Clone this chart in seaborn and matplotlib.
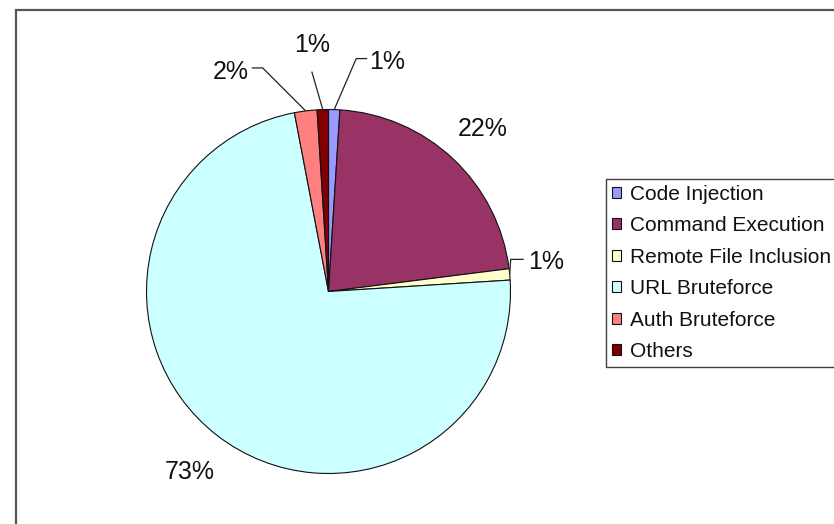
import numpy as np
import matplotlib
matplotlib.use("Agg")
import matplotlib.pyplot as plt
from matplotlib.patches import Rectangle
import seaborn as sns

# Share of attack types
categories = ["Code Injection", "Command Execution", "Remote File Inclusion",
              "URL Bruteforce", "Auth Bruteforce", "Others"]
shares = [1, 22, 1, 73, 2, 1]
slice_colors = ["#9999FF", "#993366", "#FFFFCC", "#CCFFFF", "#FF8080", "#800000"]

sns.set_theme(style="white")
plt.rcParams["font.family"] = ["Liberation Sans", "DejaVu Sans"]

W, H = 834, 524
fig = plt.figure(figsize=(W / 100, H / 100), dpi=100)
fig.patch.set_facecolor("white")
ax = fig.add_axes([0, 0, 1, 1])

# pixel-like data space (y up)
cx, cy, R = 328.5, H - 291.5, 182

palette = sns.color_palette(slice_colors)
wedges, _ = ax.pie(shares, colors=palette, startangle=90, counterclock=False,
                   center=(cx, cy), radius=R,
                   wedgeprops=dict(edgecolor="#111111", linewidth=0.8))
ax.set_xlim(0, W)
ax.set_ylim(0, H)
ax.set_aspect("equal")
ax.axis("off")

def edge_point(w, frac=1.0):
    mid = np.deg2rad((w.theta1 + w.theta2) / 2)
    return cx + frac * R * np.cos(mid), cy + frac * R * np.sin(mid), mid

# Leader layouts for the narrow slices: (dx, dy) steps from the rim in pixels,
# then text offset from the last point and its alignment.
leaders = {
    "Code Injection": ([(22, 51), (11, 0)], (2, -3), "left"),
    "Others": ([(-11, 38)], (0, 27), "center"),
    "Auth Bruteforce": ([(-43, 43), (-11, 0)], (-3, -4), "right"),
    "Remote File Inclusion": ([(1, 15), (13, 0)], (4, -3), "left"),
}

for w, name, val in zip(wedges, categories, shares):
    label = f"{val}%"
    x0, y0, mid = edge_point(w)
    if name in leaders:
        steps, toff, ha = leaders[name]
        xs, ys = [x0], [y0]
        for dx, dy in steps:
            xs.append(xs[-1] + dx)
            ys.append(ys[-1] + dy)
        ax.plot(xs, ys, color="#222222", lw=0.9, solid_capstyle="butt")
        ax.text(xs[-1] + toff[0], ys[-1] + toff[1], label, ha=ha, va="center",
                fontsize=18, color="#111111")
    else:
        lx = cx + 1.24 * R * np.cos(mid)
        ly = cy + 1.24 * R * np.sin(mid) - 2
        ax.text(lx, ly, label, ha="center", va="center", fontsize=18,
                color="#111111")

leg = ax.legend(wedges, categories, loc="upper left",
                bbox_to_anchor=(606 / W, 1 - 179 / H), bbox_transform=fig.transFigure,
                borderaxespad=0, fontsize=15, frameon=True, fancybox=False,
                handlelength=0.42, handleheight=0.42, handletextpad=0.45,
                labelspacing=0.6, borderpad=0.28)
leg.get_frame().set_edgecolor("#111111")
leg.get_frame().set_linewidth(1.0)
for t in leg.get_texts():
    t.set_color("#111111")

# Chart-area border (left and top edges visible)
fig.add_artist(Rectangle((15.5 / W, -0.2), 1.2, 1.2 - 9.5 / H,
                         transform=fig.transFigure, fill=False,
                         edgecolor="#555555", linewidth=1.6))

fig.savefig("out.png", dpi=100, facecolor="white")
